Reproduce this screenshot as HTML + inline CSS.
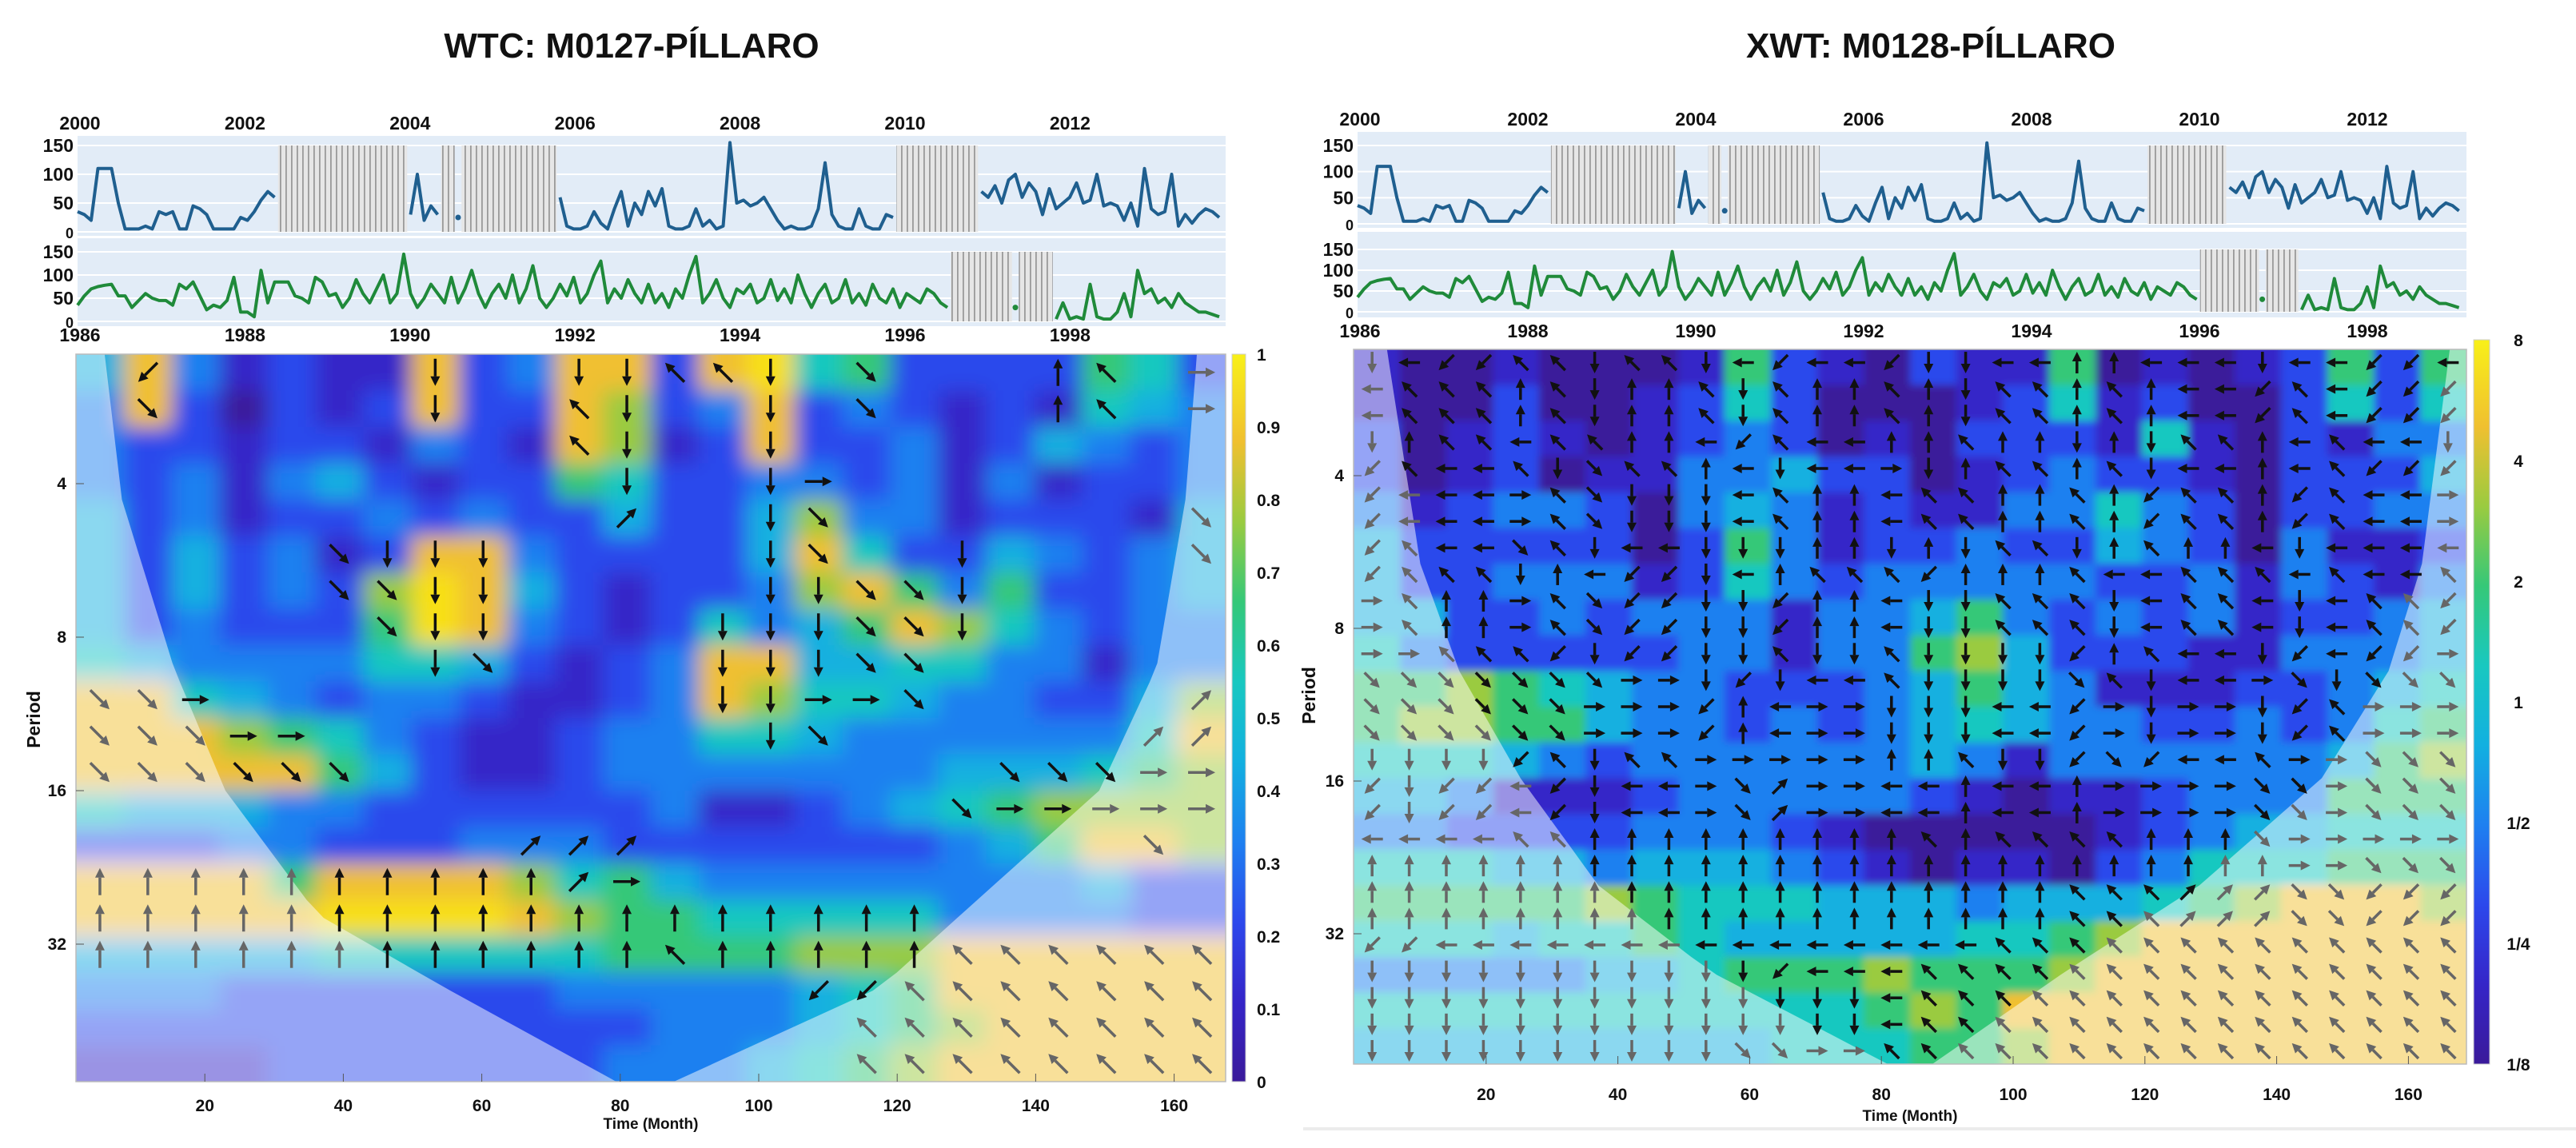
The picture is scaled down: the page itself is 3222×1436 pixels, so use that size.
<!DOCTYPE html>
<html><head><meta charset="utf-8"><title>WTC / XWT Píllaro</title>
<style>
html,body{margin:0;padding:0;background:#fff;}
svg{display:block;font-family:"Liberation Sans",sans-serif;}
.t{font-weight:bold;fill:#111;}
</style></head>
<body>
<svg id="root" width="3222" height="1436" viewBox="0 0 3222 1436" xmlns="http://www.w3.org/2000/svg">
<defs>
<filter id="blurL" x="-5%" y="-5%" width="110%" height="110%"><feGaussianBlur stdDeviation="13"/></filter>
<filter id="blurR" x="-5%" y="-5%" width="110%" height="110%"><feGaussianBlur stdDeviation="5"/></filter>
<clipPath id="clipL"><rect x="95" y="443" width="1438" height="910"/></clipPath>
<clipPath id="clipR"><rect x="1693" y="437" width="1392" height="894"/></clipPath>
<clipPath id="clipTS1"><rect x="95" y="170" width="1438" height="125"/></clipPath>
<clipPath id="clipTS2"><rect x="95" y="298" width="1438" height="110"/></clipPath>
<clipPath id="clipTS3"><rect x="1696" y="165" width="1389" height="120"/></clipPath>
<clipPath id="clipTS4"><rect x="1696" y="290" width="1389" height="107"/></clipPath>
<pattern id="hatch" width="7" height="10" patternUnits="userSpaceOnUse"><rect width="7" height="10" fill="#e6e6e6"/><rect x="0" width="1.8" height="10" fill="#9a9a9a"/></pattern>
<linearGradient id="cbar" x1="0" y1="1" x2="0" y2="0">
<stop offset="0" stop-color="#3a1a9a"/><stop offset="0.11" stop-color="#3525c8"/><stop offset="0.22" stop-color="#2c48ec"/><stop offset="0.33" stop-color="#1e80f0"/><stop offset="0.44" stop-color="#12b0e0"/><stop offset="0.55" stop-color="#18c8c0"/><stop offset="0.66" stop-color="#35c878"/><stop offset="0.77" stop-color="#9acb40"/><stop offset="0.88" stop-color="#f0c030"/><stop offset="1" stop-color="#f8f018"/>
</linearGradient>
</defs>
<text class="t" x="790" y="72" font-size="44" text-anchor="middle">WTC: M0127-PÍLLARO</text>
<text class="t" x="2415" y="72" font-size="44" text-anchor="middle">XWT: M0128-PÍLLARO</text>
<g id="layer"></g>
<line x1="1630" y1="1412" x2="3222" y2="1412" stroke="#ececec" stroke-width="4"/>
</svg>
<script>
// ---------- data ----------
const leftGrid=[
"483121182388289562222652","382021282287238232121543","322122132187128223124323","323134212265223323131223",
"423122323224224733122214","424231288322224852243234","424232798421223786362234","423222698321253468753233",
"543333554212388445533133","885432332112387554332247","888765321123355433333358","888886421123333333444567",
"544433222222311234567777","222332223332222222346887","888868888756433333333422","888889999876655555333322",
"444445555556666777888888","333222222233333456888888","222222222222333456788888","111122222223334567888888"];
const rightGrid=[
"100100016210211601012626","100200125200012512002525","201210123201022215102133","201201133422012322102224",
"312332034312113353202233","422222026312232243203112","422333125323333322313213","442232333133463232312234",
"532222233133674222113334","667654332223464311122345","677664332323454332232356","555432333333431333333467",
"443111233333210112333666","332222333210000012344555","555443444321011023555666","666667655544434445678887",
"555455654444455678888888","333334456667666788888888","555555555556768888888888","444444444555667888888888"];
const leftDirs=[
".z.....d..ddqqd.c...uq.r",".c.....d..qd..d.c...uq.r","..........qd..d.........","...........d..dr........",
"...........e..dc.......c",".....cddd.....dc..d....c",".....ccdd.....ddccd.....","......cdd....dddccd.....",
".......dc....dddcc......","ccr..........ddrrc.....e","cccrr.........dc......ee","cccccc.............cccrr",
"..................crrrrr",".........eee..........c.","uuuuuuuuuuer............","uuuuuuuuuuuuuuuuuu......",
"uuuuuuuuuuuuquuuuuqqqqqq","...............zzqqqqqqq","................qqqqqqqq","................qqqqqqqq"];
const rightDirs=[
"dlzqqdqdlzlzddluulldllzl","lqquqduqdququdququlzqlzz","duqlqqulzqluuqududqulqld","zqlqdcquldlrduquqdlulqzz",
"zllrqcddlqulqququzquzqlr","zqlcqdldddududqduquldlll","zqqdulzdluqqzuuqllqqlqlq","rqurqczddzulddqqdlqldlqz",
"rrqqzdzddqdqdddzuqldzlzr","ccccccrdzdlqdddcqdlrcdcc","cccccrrzulrdddlzrdrdzqrr","dddzqdqrrrruuqdzczlqrrcc",
"zdzlzdlrcerllulurrrccrcc","lllqquuuuuuuquqqquucrrrr","uuuuuuuuuuuuuuuuuuuurrcc","uuuuuuuuuuuuuuuqqqeecczz",
"zzllllllllllllqqqqqqqqqq","dddddddddzllqqqqqqqqqqqq","dddddddddddlqqqqqqqqqqqq","ddddddddccrqqqqqqqqqqqqq"];
const blueSeries=[35,30,20,110,110,110,50,5,5,5,10,5,35,30,35,5,5,45,40,30,5,5,5,5,25,20,35,55,70,60,
null,null,null,null,null,null,null,null,null,null,null,null,null,null,null,null,null,null,null,
30,100,20,45,30,null,null,25,
null,null,null,null,null,null,null,null,null,null,null,null,null,null,
60,10,5,5,10,35,15,5,40,70,10,50,30,70,45,75,10,5,5,10,40,10,20,5,10,155,
50,55,45,50,60,40,20,5,10,5,5,10,40,120,30,10,5,5,40,10,5,5,30,25,
null,null,null,null,null,null,null,null,null,null,null,null,
70,60,80,50,90,100,60,85,70,30,75,40,50,60,85,50,55,100,45,50,45,20,50,10,110,40,30,35,100,10,30,15,30,40,35,25];
const greenSeries=[35,55,70,75,78,80,55,55,30,45,60,50,45,45,35,80,70,85,55,25,35,30,45,95,20,20,10,110,40,85,85,85,55,50,40,95,85,55,
60,30,50,90,60,40,70,100,40,60,145,60,30,50,80,60,40,95,40,70,110,60,30,60,80,50,100,40,70,120,
50,30,50,80,55,95,40,60,100,130,40,70,50,90,60,40,80,40,60,30,70,50,100,140,40,60,90,50,30,70,
60,80,40,50,90,45,70,40,100,60,30,60,80,40,50,90,40,60,35,80,50,40,70,30,60,50,40,70,60,40,30,
null,null,null,null,null,null,null,null,null,30,null,null,null,null,null,
5,40,5,10,5,80,10,5,5,20,60,10,110,60,70,40,50,30,60,40,30,20,20,15,10];
const topYearLabels=["2000","2002","2004","2006","2008","2010","2012"];
const bottomYearLabels=["1986","1988","1990","1992","1994","1996","1998"];
const seriesTicks=[0,50,100,150];
const monthTicks=[20,40,60,80,100,120,140,160];
const periodTicks=[4,8,16,32];
const leftCbarLabels=["1","0.9","0.8","0.7","0.6","0.5","0.4","0.3","0.2","0.1","0"];
const rightCbarLabels=["8","4","2","1","1/2","1/4","1/8"];

// ---------- helpers ----------
const NS="http://www.w3.org/2000/svg";
const root=document.getElementById('layer');
const cols=["#3a1a9a","#3525c8","#2c48ec","#1e80f0","#12b0e0","#18c8c0","#35c878","#9acb40","#f0c030","#f8e018"];
function mk(tag,attrs,parent){const e=document.createElementNS(NS,tag);for(const k in attrs)e.setAttribute(k,attrs[k]);(parent||root).appendChild(e);return e;}
function txt(s,x,y,size,anchor,parent){const e=mk('text',{x:x,y:y,'font-size':size,'text-anchor':anchor||'middle',class:'t'},parent);e.textContent=s;return e;}
function interp(pts,t){for(let i=0;i<pts.length-1;i++){if(t>=pts[i][0]&&t<=pts[i+1][0]){const f=(t-pts[i][0])/(pts[i+1][0]-pts[i][0]);return pts[i][1]+f*(pts[i+1][1]-pts[i][1]);}}return pts[pts.length-1][1];}
const angles={u:-90,d:90,l:180,r:0,q:-135,e:-45,z:135,c:45};

function panel(cfg){
  const {x0,y0,w,h,grid,dirs,blur,clip,coiL,coiR,name,arrowLen,anc,anr}=cfg;
  const nr=grid.length,nc=grid[0].length,cw=w/nc,rh=h/nr;
  const outer=mk('g',{'clip-path':'url(#'+clip+')'});
  
  
  const g=mk('g',{filter:'url(#'+blur+')'},outer);
  for(let r=0;r<nr;r++)for(let c=0;c<nc;c++){
    const v=+grid[r][c];
    let x=x0+c*cw,y=y0+r*rh,ww=cw+1,hh=rh+1;
    if(c===0){x-=40;ww+=40;} if(c===nc-1)ww+=40;
    if(r===0){y-=40;hh+=40;} if(r===nr-1)hh+=40;
    const cell=mk('rect',{x:x,y:y,width:ww,height:hh,fill:cols[v]},g);
    
    
  }
  const N=40;let L=[],R=[];
  for(let i=0;i<=N;i++){const t=i/N;L.push([x0+interp(coiL,t)*w,y0+t*h]);R.push([x0+interp(coiR,t)*w,y0+t*h]);}
  const cone=L.concat(R.reverse());
  let d='M'+x0+' '+y0+'H'+(x0+w)+'V'+(y0+h)+'H'+x0+'Z M'+cone.map(p=>p[0].toFixed(1)+' '+p[1].toFixed(1)).join(' L')+'Z';
  const ov=mk('path',{d:d,fill:'#ffffff','fill-opacity':0.5,'fill-rule':'evenodd'},outer);
  
  
  const ag=mk('g',{},outer);
  
  
  const ANC=anc||nc,ANR=anr||nr,acw=w/ANC,arh=h/ANR;
  for(let r=0;r<ANR;r++)for(let c=0;c<ANC;c++){
    const cx=x0+(c+0.5)*acw,cy=y0+(r+0.5)*arh;
    const gr=Math.min(nr-1,Math.floor((cy-y0)/rh)),gc=Math.min(nc-1,Math.floor((cx-x0)/cw));
    const ch=dirs[gr][gc]; if(!(ch in angles))continue;
    const t=(cy-y0)/h;
    const inside=cx>x0+interp(coiL,t)*w&&cx<x0+interp(coiR,t)*w;
    const col=inside?'#111':'#666';
    const a=angles[ch]*Math.PI/180,dx=Math.cos(a),dy=Math.sin(a),L2=arrowLen/2;
    const tx=cx+dx*L2,ty=cy+dy*L2,bx=tx-dx*12,by=ty-dy*12;
    const ar=mk('g',{},ag);
    
    
    mk('line',{x1:cx-dx*L2,y1:cy-dy*L2,x2:bx,y2:by,stroke:col,'stroke-width':3.5},ar);
    mk('polygon',{points:tx+','+ty+' '+(bx-dy*6)+','+(by+dx*6)+' '+(bx+dy*6)+','+(by-dx*6),fill:col},ar);
  }
  mk('rect',{x:x0,y:y0,width:w,height:h,fill:'none',stroke:'#bbb','stroke-width':1.5});
}

function series(cfg){
  const {x0,y0,w,h,y150,yZero,data,color,clip,name,dx}=cfg;
  const bg=mk('rect',{x:x0,y:y0,width:w,height:h,fill:'#e2ecf7'});
  
  
  const sy=v=>yZero-(v/150)*(yZero-y150);
  seriesTicks.forEach(v=>{mk('line',{x1:x0,x2:x0+w,y1:sy(v),y2:sy(v),stroke:'#fff','stroke-width':2});});
  const g=mk('g',{'clip-path':'url(#'+clip+')'});
  
  
  let i=0;
  while(i<data.length){
    if(data[i]===null){let j=i;while(j<data.length&&data[j]===null)j++;
      const hr=mk('rect',{x:x0+(i-0.5)*dx,y:sy(150),width:(j-i)*dx,height:sy(0)-sy(150),fill:'url(#hatch)'},g);
      
      
      i=j;} else i++;
  }
  let d='',pen=false;
  data.forEach((v,k)=>{if(v===null){pen=false;return;}d+=(pen?'L':'M')+(x0+k*dx).toFixed(1)+' '+sy(v).toFixed(1)+' ';pen=true;});
  const p=mk('path',{d:d,fill:'none',stroke:color,'stroke-width':4,'stroke-linejoin':'round'},g);
  
  
  data.forEach((v,k)=>{const prev=k>0?data[k-1]:null,next=k<data.length-1?data[k+1]:null;
    if(v!==null&&prev===null&&next===null){const dt=mk('circle',{cx:x0+k*dx,cy:sy(v),r:3.5,fill:color},g);
      }});
  seriesTicks.forEach(v=>{const t=txt(String(v),x0-5,sy(v)+8,v===0?18:23,'end');t.setAttribute('fill',v===0?'#888':'#111');
    });
}

function side(o){
  series({x0:o.sx0,y0:o.s1y0,w:o.sw,h:o.s1h,y150:o.s1y150,yZero:o.s1y0v,data:blueSeries,color:'#1f5f8f',clip:o.c1,name:o.name+'-blue-series',dx:o.sdx});
  series({x0:o.sx0,y0:o.s2y0,w:o.sw,h:o.s2h,y150:o.s2y150,yZero:o.s2y0v,data:greenSeries,color:'#1f8a3a',clip:o.c2,name:o.name+'-green-series',dx:o.sdx});
  topYearLabels.forEach((s,k)=>{const t=txt(s,o.sx0+3+k*24*o.ydx,o.topY,23);});
  bottomYearLabels.forEach((s,k)=>{const t=txt(s,o.sx0+3+k*24*o.ydx,o.botY,23);});
  panel({x0:o.hx0,y0:o.hy0,w:o.hw,h:o.hh,grid:o.grid,dirs:o.dirs,blur:o.blur,clip:o.clip,coiL:o.coiL,coiR:o.coiR,name:o.name,arrowLen:o.alen,anc:o.anc,anr:o.anr});
  monthTicks.forEach(m=>{const x=o.m0+m*o.mdx;mk('line',{x1:x,x2:x,y1:o.hy0+o.hh-10,y2:o.hy0+o.hh,stroke:'#555','stroke-width':1});
    const t=txt(String(m),x,o.xtY,21);});
  const xl=txt('Time (Month)',o.hx0+o.hw/2,o.xlY,19);
  periodTicks.forEach(p=>{const y=o.p4+Math.log2(p/4)*o.oct;mk('line',{x1:o.hx0,x2:o.hx0+10,y1:y,y2:y,stroke:'#555'});
    const t=txt(String(p),o.hx0-12,y+7,21,'end');});
  const yl=txt('Period',0,0,23);yl.setAttribute('transform','translate('+o.plX+','+o.plY+') rotate(-90)');
  
  const cb=mk('rect',{x:o.cbx,y:o.cby0,width:o.cbw,height:o.cby1-o.cby0,fill:'url(#cbar)',stroke:'#ccc','stroke-width':1});
  
  const labs=o.cbl,n=labs.length;
  labs.forEach((s,k)=>{const y=o.cby0+k*(o.cby1-o.cby0)/(n-1);const t=txt(s,o.cblx,y+8,21,o.cba);
    });
}

side({name:'wtc',sx0:97,sw:1436,sdx:8.5,ydx:8.6,s1y0:170,s1h:125,s1y150:182,s1y0v:290,s2y0:298,s2h:110,s2y150:315,s2y0v:402,c1:'clipTS1',c2:'clipTS2',
  topY:162,botY:427,hx0:95,hy0:443,hw:1438,hh:910,grid:leftGrid,dirs:leftDirs,blur:'blurL',clip:'clipL',alen:34,
  coiL:[[0,0.025],[0.2,0.04],[0.43,0.085],[0.6,0.13],[0.77,0.21],[0.87,0.32],[1,0.47]],
  coiR:[[0,0.975],[0.2,0.965],[0.43,0.94],[0.6,0.89],[0.77,0.77],[0.87,0.70],[1,0.52]],
  m0:83,mdx:8.66,xtY:1390,xlY:1412,p4:605,oct:192,plX:50,plY:900,cbx:1541,cbw:17,cby0:443,cby1:1353,cbl:leftCbarLabels,cblx:1572,cba:'start'});
side({name:'xwt',sx0:1698,sw:1387,sdx:8.2,ydx:8.75,s1y0:165,s1h:120,s1y150:182,s1y0v:280,s2y0:290,s2h:107,s2y150:312,s2y0v:390,c1:'clipTS3',c2:'clipTS4',
  topY:157,botY:422,hx0:1693,hy0:437,hw:1392,hh:894,grid:rightGrid,dirs:rightDirs,blur:'blurR',clip:'clipR',alen:27,anc:30,anr:27,
  coiL:[[0,0.03],[0.3,0.06],[0.45,0.095],[0.6,0.15],[0.75,0.22],[0.87,0.32],[1,0.48]],
  coiR:[[0,0.985],[0.3,0.96],[0.45,0.93],[0.6,0.87],[0.75,0.76],[0.87,0.64],[1,0.52]],
  m0:1694,mdx:8.24,xtY:1376,xlY:1402,p4:595,oct:191,plX:1645,plY:870,cbx:3094,cbw:20,cby0:425,cby1:1331,cbl:rightCbarLabels,cblx:3150,cba:'middle'});
</script>
</body></html>
